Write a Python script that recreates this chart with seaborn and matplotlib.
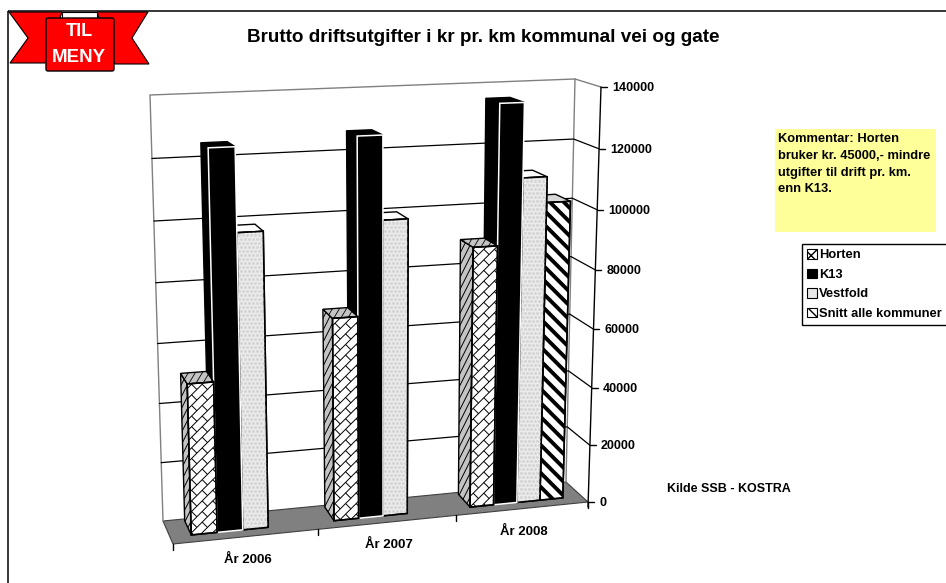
import numpy as np
import pandas as pd
import matplotlib
matplotlib.use('Agg')
import matplotlib.pyplot as plt
import seaborn as sns
from matplotlib.collections import LineCollection
from matplotlib.patches import Patch, Polygon, Rectangle, FancyBboxPatch
from matplotlib.path import Path
from matplotlib.transforms import Affine2D, Transform

years = ['År 2006', 'År 2007', 'År 2008']
series = ['Horten', 'K13', 'Vestfold', 'Snitt alle kommuner']
horten = [50000, 68000, 88500]
k13 = [124500, 126300, 135000]
vestfold = [97500, 99000, 110500]
snitt = [np.nan, np.nan, 102000]
ticks = [0, 20000, 40000, 60000, 80000, 100000, 120000, 140000]

sns.set_style('white')
plt.rcParams['font.family'] = ['Liberation Sans', 'DejaVu Sans']
plt.rcParams['font.weight'] = 'bold'
plt.rcParams['text.color'] = 'black'

W, H = 946, 583
VMAX = 140000
D0, D1 = 0.3, 0.92   # depth range of the bars, 0 = front of floor, 1 = back wall

# pixel corners of the 3d box, [depth][top/bottom][left/right]
box = np.array([[[(173, 544), (588, 502)], [(160, 101), (601, 87)]],
                [[(163, 521), (566, 482)], [(150, 95), (575, 79)]]], dtype=float)
pix = Affine2D().scale(1, -1).translate(0, H)


def project(x, v, d):
    # category position, value, depth -> pixel position
    x, v, d = np.asarray(x, float), np.asarray(v, float), np.asarray(d, float)
    s = (x + 0.5) / 3
    s = s * 1.074 / (1 + 0.074 * s)
    t = v / VMAX
    t = t * 0.952 / (1 - 0.048 * t)
    out = 0
    for di, wd in enumerate([1 - d, d]):
        for ti, wt in enumerate([1 - t, t]):
            for si, ws in enumerate([1 - s, s]):
                out = out + (wd * wt * ws)[..., None] * box[di, ti, si]
    return out


class FrontPlane(Transform):
    input_dims = 2
    output_dims = 2
    is_affine = False
    has_inverse = False

    def __init__(self, d):
        super().__init__()
        self.d = d

    def transform_non_affine(self, values):
        values = np.asarray(values, float)
        px = project(values[:, 0], values[:, 1], np.full(len(values), self.d))
        return pix.transform(px)


def bricks(pts):
    # diagonal brick texture covering the polygon pts
    lo, hi = pts.min(axis=0) - 30, pts.max(axis=0) + 30
    segs = []
    w, L = 7.5, 15
    c = (lo + hi) / 2
    r = int(np.hypot(*(hi - lo)) / 2 / w) + 2
    u = np.array([1, -1]) / np.sqrt(2)
    n = np.array([1, 1]) / np.sqrt(2)
    for j in range(-r, r):
        segs.append([c + j * w * n - r * w * u, c + j * w * n + r * w * u])
        for i in range(-r, r):
            p = c + j * w * n + (i + 0.5 * (j % 2)) * L * u
            segs.append([p, p + w * n])
    return segs


def stripes(pts, period, slope=1):
    lo, hi = pts.min(axis=0), pts.max(axis=0)
    h = hi[1] - lo[1]
    off = np.arange(lo[0] - h - period, hi[0] + h + period, period)
    return [[(o, lo[1]), (o + slope * h, hi[1])] for o in off]


def dots(pts, step=5):
    lo, hi = pts.min(axis=0), pts.max(axis=0)
    gx, gy = np.meshgrid(np.arange(lo[0], hi[0], step), np.arange(lo[1], hi[1], step))
    gx = gx + (np.arange(gx.shape[0]) % 2)[:, None] * step / 2
    return gx.ravel(), gy.ravel()


def texture(ax, segs, pts, z, lw=0.8, color='black'):
    lc = LineCollection(segs, colors=color, linewidths=lw, transform=pix, zorder=z)
    ax.add_collection(lc, autolim=False)
    lc.set_clip_path(Path(np.vstack([pts, pts[:1]]), closed=True), pix)


df = pd.DataFrame({
    'year': np.tile(years, 4),
    'series': np.repeat(series, 3),
    'value': horten + k13 + vestfold + snitt,
})

fig = plt.figure(figsize=(W / 100, H / 100), dpi=100)
ax = fig.add_axes([0, 0, 1, 1])
sns.barplot(data=df, x='year', y='value', hue='series', hue_order=series, order=years,
            palette=['white', 'black', '#ececec', 'white'], width=0.71, gap=0,
            legend=False, ax=ax)
ax.set_xlim(-0.5, 2.5)
ax.set_ylim(0, VMAX)
ax.axis('off')

# frame round the sheet
ax.add_patch(Rectangle((8, 11), 1000, 700, fill=False, ec='black', lw=1.1, transform=pix, clip_on=False, zorder=1))

# floor
floor = project([-0.5, 2.5, 2.5, -0.5], [0, 0, 0, 0], [0, 0, 1, 1])
ax.add_patch(Polygon(floor, fc='#808080', ec='#404040', lw=0.8, transform=pix, zorder=1.5))

# walls and gridlines
wall = project([-0.5, -0.5, 2.5, 2.5, 2.5], [0, VMAX, VMAX, 0, VMAX], [1, 1, 1, 1, 1])
ax.plot(*wall[[0, 1, 2, 3]].T, color='#808080', lw=1, transform=pix, zorder=2)
edge = project([2.5, 2.5], [VMAX, VMAX], [1, 0])
ax.plot(*edge.T, color='#808080', lw=1, transform=pix, zorder=2)
for v in ticks[1:-1]:
    line = project([-0.5, 2.5, 2.5], [v, v, v], [1, 1, 0])
    ax.plot(*line.T, color='black', lw=0.9, transform=pix, zorder=2)

# value axis with ticks on the right
axis = project([2.5, 2.5], [0, VMAX], [0, 0])
ax.plot(axis[:, 0], axis[:, 1] + [5, 0], color='black', lw=1, transform=pix, zorder=2)
for v in ticks:
    px, py = project(2.5, v, 0)
    ax.plot([px, px + 6], [py, py], color='black', lw=1, transform=pix, zorder=2)
    ax.text(px + 11, py + 1, str(v), fontsize=9, va='center', ha='left', transform=pix)

# category ticks and labels
for i in range(4):
    px, py = project(i - 0.5, 0, 0)
    ax.plot([px, px], [py, py + 6], color='black', lw=1, transform=pix, zorder=2)
for i, y in enumerate(years):
    px, py = project(i, 0, 0)
    ax.text(px + 1, py + 23, y, fontsize=9.5, ha='center', va='center', transform=pix)

# bars: seaborn fronts pushed on the 3d front plane, drawn right to left
bars = []
for name, cont in zip(series, ax.containers):
    for b in cont.patches:
        if np.isfinite(b.get_height()) and b.get_height() > 0:
            bars.append((b.get_x(), name, b))
bars.sort(key=lambda item: -item[0])
front_tf = FrontPlane(D0)
for k, (x0, name, b) in enumerate(bars):
    z = 3 + k
    x1 = x0 + b.get_width()
    v = b.get_height()
    left = project([x0, x0, x0, x0], [0, v, v, 0], [D0, D0, D1, D1])
    top = project([x0, x1, x1, x0], [v, v, v, v], [D0, D0, D1, D1])
    face = project([x0, x1, x1, x0], [0, 0, v, v], [D0, D0, D0, D0])
    side_col = {'Horten': '#c4c4c4', 'K13': 'black', 'Vestfold': '#ececec', 'Snitt alle kommuner': '#c4c4c4'}[name]
    top_col = {'Horten': '#c4c4c4', 'K13': 'black', 'Vestfold': 'white', 'Snitt alle kommuner': '#d8d8d8'}[name]
    ec = 'white' if name == 'K13' else 'black'
    ax.add_patch(Polygon(left, fc=side_col, ec='black', lw=1, transform=pix, zorder=z))
    ax.add_patch(Polygon(top, fc=top_col, ec='black', lw=1, transform=pix, zorder=z))
    b.set_transform(front_tf)
    b.set_clip_on(False)
    b.set_edgecolor(ec)
    b.set_linewidth(1.1)
    b.set_zorder(z + 0.1)
    if name == 'Horten':
        texture(ax, bricks(face), face, z + 0.2, lw=0.7)
        texture(ax, stripes(left, 6, slope=-0.5), left, z + 0.05, lw=0.7)
        texture(ax, stripes(top, 7, slope=-0.6), top, z + 0.05, lw=0.6)
    elif name == 'Snitt alle kommuner':
        texture(ax, stripes(face, 14), face, z + 0.2, lw=2.8)
    elif name == 'Vestfold':
        gx, gy = dots(face, 4)
        ax.scatter(gx, gy, s=5, c='#d6d6d6', lw=0, transform=pix, zorder=z + 0.2,
                   clip_path=Polygon(face, transform=pix))
    if name != 'K13':
        ax.add_patch(Polygon(face, fill=False, ec=ec, lw=1.1, transform=pix, zorder=z + 0.3))

# title and notes
ax.text(483, 37, 'Brutto driftsutgifter i kr pr. km kommunal vei og gate', fontsize=13.6,
        ha='center', va='center', transform=pix)
ax.text(729, 489, 'Kilde SSB - KOSTRA', fontsize=9, ha='center', va='center', transform=pix)

note = Rectangle((775, 129), 161, 103, fc='#ffff99', ec='none', transform=pix, zorder=20)
ax.add_patch(note)
note_lines = ['Kommentar: Horten', 'bruker kr. 45000,- mindre', 'utgifter til drift pr. km.', 'enn K13.']
for i, line in enumerate(note_lines):
    t = ax.text(778, 139 + i * 16.8, line, fontsize=9.3, ha='left', va='center', transform=pix, zorder=21)
    t.set_clip_path(Path([(775, 129), (932, 129), (932, 232), (775, 232), (775, 129)], closed=True), pix)

# legend
handles = [Patch(fc='white', ec='black', hatch='xxx', lw=0.8),
           Patch(fc='black', ec='black', lw=0.8),
           Patch(fc='#e8e8e8', ec='black', lw=0.8),
           Patch(fc='white', ec='black', hatch='\\\\\\', lw=0.8)]
leg = ax.legend(handles, series, loc='upper left', bbox_to_anchor=(802, 244), bbox_transform=pix,
                borderaxespad=0, fancybox=False, edgecolor='black', framealpha=1, fontsize=9.3,
                handlelength=0.75, handleheight=0.75, handletextpad=0.15, labelspacing=0.56,
                borderpad=0.4, labelcolor='black')
leg.get_frame().set_linewidth(1)
leg.set_zorder(22)

# red menu ribbon
tails = [[(9, 12), (62, 12), (45, 63), (10, 63), (28, 38)],
         [(148, 12), (97, 12), (115, 64), (149, 64), (132, 38)]]
for t in tails:
    ax.add_patch(Polygon(t, fc='#ff0000', ec='black', lw=0.8, transform=pix, zorder=23))
ax.add_patch(Rectangle((62, 12), 35, 8, fc='white', ec='black', lw=0.8, transform=pix, zorder=23))
ax.add_patch(FancyBboxPatch((46, 18), 68, 53, boxstyle='round,pad=0,rounding_size=2', fc='#ff0000',
                            ec='black', lw=1, transform=pix, zorder=24))
ax.text(79, 32, 'TIL', color='white', fontsize=13, ha='center', va='center', transform=pix, zorder=25)
ax.text(79, 57, 'MENY', color='white', fontsize=13.5, ha='center', va='center', transform=pix, zorder=25)

fig.savefig('out.png', dpi=100)
